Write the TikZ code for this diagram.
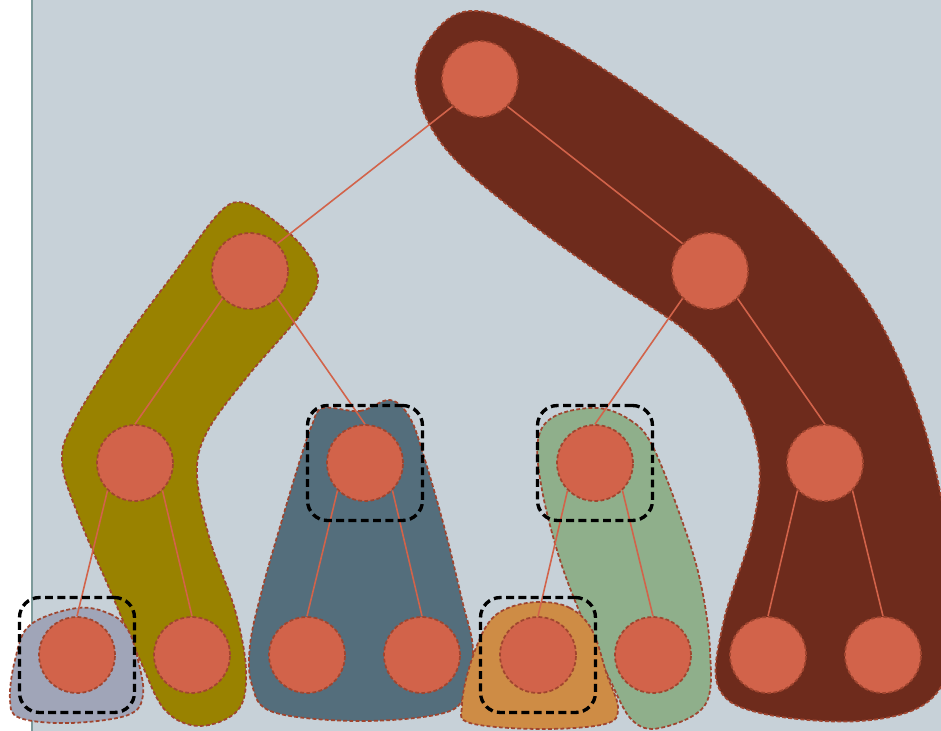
\documentclass[tikz,border=0pt]{standalone}
\usepackage{xcolor}
\definecolor{treeback}{HTML}{C7D1D8}
\definecolor{treewall}{HTML}{7D9A9A}
\definecolor{treenode}{HTML}{D2634A}
\definecolor{treerim}{HTML}{A0452F}
\definecolor{blobbrown}{HTML}{6E2B1C}
\definecolor{blobolive}{HTML}{998200}
\definecolor{blobslate}{HTML}{546E7C}
\definecolor{blobgreen}{HTML}{8FAF8B}
\definecolor{bloborange}{HTML}{CE8C45}
\definecolor{blobgrey}{HTML}{A0A5B8}

\begin{document}
\begin{tikzpicture}[
  x=0.02cm,
  y=-0.02cm,
  vertex/.style={circle, minimum size=1.52cm, inner sep=0pt, fill=treenode,
    draw=treerim, line width=1pt, dash pattern=on 2.2pt off 1.3pt},
  link/.style={treenode, line width=0.9pt},
  blob/.style={draw=treerim, line width=1pt, dash pattern=on 2.2pt off 1.3pt},
  focus/.style={rectangle, minimum size=2.3cm, inner sep=0pt, rounded corners=0.4cm,
    draw=black, line width=1.9pt, dash pattern=on 4.5pt off 2.5pt}
]
  % ---- page: white strip on the left, grey panel on the rest ----
  \useasboundingbox (0,0) rectangle (941,731);
  \clip (0,0) rectangle (941,731);
  \fill[treeback] (32,0) rectangle (960,740);
  \draw[treewall, line width=1.1pt] (32,0) -- (32,740);

  % ---- blobs ----
  \draw[blob, fill=blobbrown] plot[smooth cycle, tension=0.6] coordinates {
    (470,11) (540,32) (650,100) (770,190) (860,290) (915,400) (945,520)
    (952,640) (930,700) (860,721) (760,713) (718,686) (724,620) (752,530)
    (759,460) (737,392) (692,336) (610,280) (520,215) (445,148) (416,85)
    (430,38)};
  \draw[blob, fill=blobolive] plot[smooth cycle, tension=0.6] coordinates {
    (245,203) (276,222) (305,250) (318,280) (300,315) (247,377) (207,432)
    (197,475) (210,540) (235,610) (246,670) (238,710) (200,726) (165,710)
    (140,660) (110,590) (80,520) (62,462) (75,420) (125,340) (175,272)
    (220,212)};
  \draw[blob, fill=blobslate] plot[smooth cycle, tension=0.6] coordinates {
    (323,408) (360,411) (390,400) (410,418) (425,460) (445,530) (462,600)
    (473,650) (465,695) (440,714) (357,721) (273,712) (252,685) (250,645)
    (262,590) (282,520) (300,460) (312,425)};
  \draw[blob, fill=blobgreen] plot[smooth cycle, tension=0.6] coordinates {
    (597,408) (630,420) (652,445) (680,515) (700,580) (710,650) (705,705)
    (660,728) (632,720) (610,680) (585,625) (560,560) (542,490) (538,440)
    (555,416)};
  \draw[blob, fill=bloborange] plot[smooth cycle, tension=0.6] coordinates {
    (540,602) (570,608) (592,630) (607,675) (618,708) (605,724) (540,729)
    (470,723) (462,705) (470,665) (487,625) (508,608)};
  \draw[blob, fill=blobgrey] plot[smooth cycle, tension=0.6] coordinates {
    (77,608) (110,614) (128,630) (138,660) (143,695) (128,715) (70,723)
    (20,718) (10,700) (15,660) (30,625)};

  % ---- tree ----
  \node[vertex] (t1) at (480,79) {};
  \node[vertex] (t2) at (250,271) {};
  \node[vertex] (t3) at (710,271) {};
  \node[vertex] (t4) at (135,463) {};
  \node[vertex] (t5) at (365,463) {};
  \node[vertex] (t6) at (595,463) {};
  \node[vertex] (t7) at (825,463) {};
  \node[vertex] (t8) at (77,655) {};
  \node[vertex] (t9) at (192,655) {};
  \node[vertex] (t10) at (307,655) {};
  \node[vertex] (t11) at (422,655) {};
  \node[vertex] (t12) at (538,655) {};
  \node[vertex] (t13) at (653,655) {};
  \node[vertex] (t14) at (768,655) {};
  \node[vertex] (t15) at (883,655) {};

  \draw[link] (t1.south west) -- (t2.north east);
  \draw[link] (t1.south east) -- (t3.north west);
  \foreach \p/\l/\r in {t2/t4/t5, t3/t6/t7, t4/t8/t9, t5/t10/t11,
                        t6/t12/t13, t7/t14/t15}{
    \draw[link] (\p.south west) -- (\l.north);
    \draw[link] (\p.south east) -- (\r.north);
  }

  % ---- dashed frames ----
  \node[focus] (f5) at (t5) {};
  \node[focus] (f6) at (t6) {};
  \node[focus] (f8) at (t8) {};
  \node[focus] (f12) at (t12) {};
\end{tikzpicture}
\end{document}
